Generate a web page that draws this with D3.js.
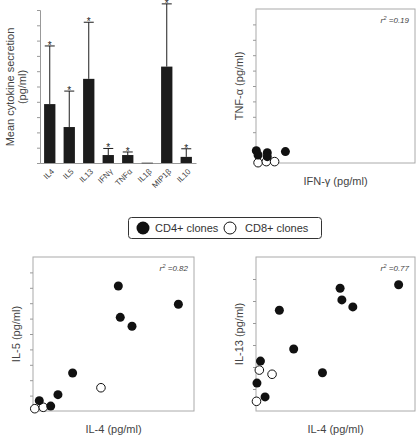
<!DOCTYPE html>
<html><head><meta charset="utf-8">
<script src="https://cdn.jsdelivr.net/npm/d3@7"></script>
<style>body{margin:0;background:#fff}svg{display:block}text{font-family:"Liberation Sans",Arial,sans-serif}</style>
</head><body>
<script>
// Bar panel data
const cytokines = ["IL4","IL5","IL13","IFNγ","TNFα","IL1β","MIP1β","IL10"];
const meanValues = [3.85,2.35,5.5,0.52,0.52,0.02,6.3,0.4];
const errorTops = [7.65,4.7,9.2,0.95,0.72,0.02,10.4,0.93];
const barTicks = [0,1,2,3,4,5,6,7,8,9,10];

// Scatter: TNF-α vs IFN-γ
const tnfCD4x = [0.02,0.13,0.71,0.71,1.85];
const tnfCD4y = [0.80,0.52,0.67,0.41,0.74];
const tnfCD8x = [0.13,0.65,1.17];
const tnfCD8y = [0.02,0.09,0.09];
// Scatter: IL-5 vs IL-4
const il5CD4x = [0.39,1.10,1.55,2.46,5.30,5.42,6.15,9.03];
const il5CD4y = [0.67,0.32,1.06,2.47,8.12,6.08,5.50,6.93];
const il5CD8x = [0.11,0.64,4.22];
const il5CD8y = [0.15,0.24,1.51];
// Scatter: IL-13 vs IL-4
const il13CD4x = [8.97,5.29,5.40,6.09,1.47,2.37,4.18,0.28,0.06,0.57];
const il13CD4y = [5.74,5.58,5.05,4.73,4.58,2.82,1.74,2.27,1.27,0.64];
const il13CD8x = [0.21,1.01,0.03];
const il13CD8y = [1.86,1.67,0.44];

const legendLabels = ["CD4+ clones","CD8+ clones"];

const W=416,H=436;
const svg=d3.select("body").append("svg").attr("width",W).attr("height",H);
const axisCol="#999", textCol="#444", barCol="#1c1c1c";

// ---- Bar chart ----
{
  const x=d3.scaleBand().domain(cytokines).range([40,196]).paddingInner(0.42).paddingOuter(0.21);
  const y=d3.scaleLinear().domain([0,10]).range([163,10]);
  const g=svg.append("g");
  const yAx=d3.axisLeft(y).tickValues(barTicks).tickSize(3).tickFormat("");
  const ya=g.append("g").attr("transform","translate(40,0)").call(yAx);
  ya.selectAll("path,line").attr("stroke",axisCol);
  const xAx=d3.axisBottom(x).tickSize(0).tickFormat("");
  const xa=g.append("g").attr("transform","translate(0,163)").call(xAx);
  xa.select("path").attr("stroke",axisCol);
  g.selectAll(".xl").data(cytokines).join("text")
    .attr("transform",d=>`translate(${x(d)+x.bandwidth()/2+3},${170}) rotate(-45)`)
    .attr("text-anchor","end").attr("dy","0.35em")
    .attr("font-size",8).attr("fill",textCol).text(d=>d);
  const data=cytokines.map((c,i)=>({c,v:meanValues[i],e:errorTops[i]}));
  const withErr=data.filter(d=>d.e>d.v+0.05);
  g.selectAll(".err").data(withErr).join("line")
    .attr("x1",d=>x(d.c)+x.bandwidth()/2).attr("x2",d=>x(d.c)+x.bandwidth()/2)
    .attr("y1",d=>y(d.v)).attr("y2",d=>y(d.e)).attr("stroke",barCol).attr("stroke-width",1);
  g.selectAll(".cap").data(withErr).join("line")
    .attr("x1",d=>x(d.c)+x.bandwidth()/2-5).attr("x2",d=>x(d.c)+x.bandwidth()/2+5)
    .attr("y1",d=>y(d.e)).attr("y2",d=>y(d.e)).attr("stroke",barCol).attr("stroke-width",1);
  g.selectAll(".star").data(withErr).join("text")
    .attr("x",d=>x(d.c)+x.bandwidth()/2).attr("y",d=>y(d.e)+3).attr("text-anchor","middle")
    .attr("font-size",10).attr("fill",barCol).text("*");
  g.selectAll(".bar").data(data).join("rect")
    .attr("x",d=>x(d.c)).attr("width",x.bandwidth())
    .attr("y",d=>y(d.v)).attr("height",d=>Math.max(0.6,y(0)-y(d.v))).attr("fill",barCol);
  g.append("text").attr("transform","translate(14,87) rotate(-90)").attr("text-anchor","middle")
    .attr("font-size",11).attr("fill",textCol).text("Mean cytokine secretion");
  g.append("text").attr("transform","translate(26,87) rotate(-90)").attr("text-anchor","middle")
    .attr("font-size",11).attr("fill",textCol).text("(pg/ml)");
}

function scatter(opt){
  const x=d3.scaleLinear().domain([0,10]).range([opt.x0,opt.x1]);
  const y=d3.scaleLinear().domain([0,opt.ymax]).range([opt.y1,opt.y0]);
  const g=svg.append("g");
  g.append("rect").attr("x",opt.x0).attr("y",opt.y0).attr("width",opt.x1-opt.x0).attr("height",opt.y1-opt.y0)
    .attr("fill","none").attr("stroke","#aaa").attr("stroke-width",1);
  const ya=g.append("g").attr("transform",`translate(${opt.x0},0)`)
    .call(d3.axisLeft(y).tickValues(d3.range(1,opt.ymax)).tickSize(3).tickFormat(""));
  ya.select("path").remove();
  ya.selectAll("line").attr("stroke",axisCol);
  const pts4=opt.cd4x.map((v,i)=>[v,opt.cd4y[i]]);
  const pts8=opt.cd8x.map((v,i)=>[v,opt.cd8y[i]]);
  g.selectAll(".p8").data(pts8).join("circle").attr("cx",d=>x(d[0])).attr("cy",d=>y(d[1])).attr("r",4.3)
    .attr("fill","#fff").attr("stroke","#111").attr("stroke-width",1);
  g.selectAll(".p4").data(pts4).join("circle").attr("cx",d=>x(d[0])).attr("cy",d=>y(d[1])).attr("r",4.5)
    .attr("fill","#111");
  g.append("text").attr("x",(opt.x0+opt.x1)/2).attr("y",opt.y1+22).attr("text-anchor","middle")
    .attr("font-size",11).attr("fill",textCol).text(opt.xlab);
  g.append("text").attr("transform",`translate(${opt.x0-13},${(opt.y0+opt.y1)/2}) rotate(-90)`).attr("text-anchor","middle")
    .attr("font-size",11).attr("fill",textCol).text(opt.ylab);
  const rt=g.append("text").attr("x",opt.x1-6).attr("y",opt.y0+14).attr("text-anchor","end")
    .attr("font-size",8).attr("font-style","italic").attr("fill",textCol);
  rt.append("tspan").text("r");
  rt.append("tspan").attr("dy",-3).attr("font-size",6).text("2");
  rt.append("tspan").attr("dy",3).text(" =" + opt.r2);
}

scatter({x0:256,x1:415,y0:9,y1:163,ymax:10,cd4x:tnfCD4x,cd4y:tnfCD4y,cd8x:tnfCD8x,cd8y:tnfCD8y,
  xlab:"IFN-γ (pg/ml)",ylab:"TNF-α (pg/ml)",r2:"0.19"});
scatter({x0:33,x1:194,y0:257,y1:411,ymax:10,cd4x:il5CD4x,cd4y:il5CD4y,cd8x:il5CD8x,cd8y:il5CD8y,
  xlab:"IL-4 (pg/ml)",ylab:"IL-5 (pg/ml)",r2:"0.82"});
scatter({x0:256,x1:415,y0:257,y1:411,ymax:7,cd4x:il13CD4x,cd4y:il13CD4y,cd8x:il13CD8x,cd8y:il13CD8y,
  xlab:"IL-4 (pg/ml)",ylab:"IL-13 (pg/ml)",r2:"0.77"});

// Legend
{
  const g=svg.append("g");
  g.append("rect").attr("x",128.5).attr("y",217.5).attr("width",193).attr("height",21).attr("rx",3)
    .attr("fill","#fff").attr("stroke","#333").attr("stroke-width",1);
  g.append("circle").attr("cx",143).attr("cy",228).attr("r",6.5).attr("fill","#111");
  g.append("text").attr("x",155).attr("y",232).attr("font-size",11).attr("fill","#333").text(legendLabels[0]);
  g.append("circle").attr("cx",230).attr("cy",228).attr("r",6).attr("fill","#fff").attr("stroke","#111");
  g.append("text").attr("x",245).attr("y",232).attr("font-size",11).attr("fill","#333").text(legendLabels[1]);
}
</script>
</body></html>
